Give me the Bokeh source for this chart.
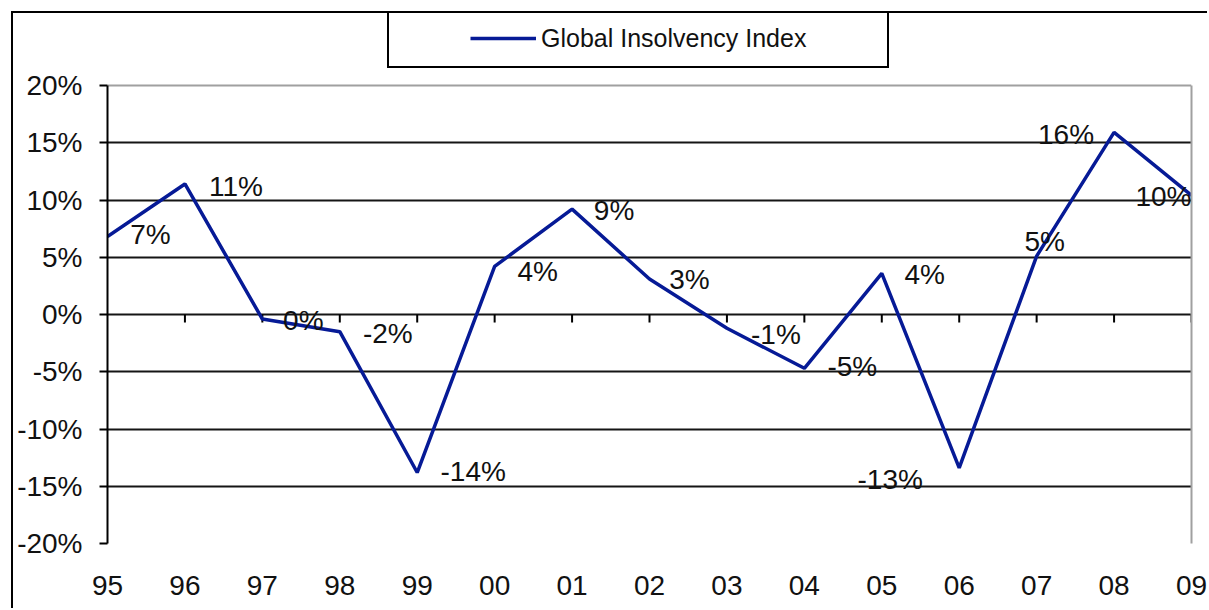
from bokeh.plotting import figure
from bokeh.models import (Range1d, FixedTicker, PrintfTickFormatter, ColumnDataSource,
                          LabelSet, Legend, LegendItem, Grid, LinearAxis)
from bokeh.core.properties import value
from bokeh.embed import file_html
from bokeh.resources import INLINE

# ---- data ----
years = ["95", "96", "97", "98", "99", "00", "01", "02", "03", "04", "05", "06", "07", "08", "09"]
insolvency = [6.8, 11.4, -0.4, -1.5, -13.8, 4.2, 9.2, 3.1, -1.2, -4.7, 3.6, -13.4, 5.1, 15.9, 10.4]
point_labels = ["7%", "11%", "0%", "-2%", "-14%", "4%", "9%", "3%", "-1%", "-5%", "4%", "-13%", "5%", "16%", "10%"]
y_ticks = [-20, -15, -10, -5, 0, 5, 10, 15, 20]
series_name = "Global Insolvency Index"

# ---- layout ----
label_dx = [43, 51, 41, 48, 56, 43, 42, 40, 49, 48, 43, -69, 8, -48, -28]   # px
label_dy = [-2, 3, 1, 2, -1, 5, 1, 0, 6, -2, 1, 12, -15, 2, 1]              # px, + = down
PLOT_H = 458          # px between the 20% and -20% lines
HEADROOM = 72         # px above the 20% line reserved for the legend box
LEGEND_H = 56
FONT = "Liberation Sans"
TXT = "#111111"
GRAY = "#a0a0a0"

idx = list(range(len(years)))
y_lo, y_hi = min(y_ticks), max(y_ticks)
y_top = y_hi + HEADROOM * (y_hi - y_lo) / PLOT_H

p = figure(width=1196, height=597, output_backend="svg", toolbar_location=None,
           margin=(13, 0, 0, 13),
           x_range=Range1d(0, len(years) - 1), y_range=Range1d(y_lo, y_top),
           min_border_left=94, min_border_right=18, min_border_top=0, min_border_bottom=67,
           background_fill_color="white", border_fill_color="white")
# outer chart border: top and left edges only
p.styles = {"box-shadow": "-2px -2px 0 0 black"}
p.outline_line_color = None

# y axis
p.yaxis.bounds = (y_lo, y_hi)
p.yaxis.ticker = FixedTicker(ticks=y_ticks)
p.yaxis.formatter = PrintfTickFormatter(format="%d%%")
p.yaxis.axis_line_color = "black"
p.yaxis.axis_line_width = 2
p.yaxis.major_tick_line_color = "black"
p.yaxis.major_tick_line_width = 2
p.yaxis.major_tick_out = 8
p.yaxis.major_tick_in = 0
p.yaxis.minor_tick_line_color = None
p.yaxis.major_label_standoff = 17
p.yaxis.major_label_text_font = FONT
p.yaxis.major_label_text_font_size = "28px"
p.yaxis.major_label_text_color = TXT

# right edge of the plot area (gray)
right_axis = LinearAxis(bounds=(y_lo, y_hi), ticker=FixedTicker(ticks=[]),
                        axis_line_color=GRAY, axis_line_width=2,
                        major_tick_line_color=None, minor_tick_line_color=None,
                        major_label_text_font_size="0px")
p.add_layout(right_axis, "right")

# x axis (labels only, at the bottom)
p.xaxis.ticker = FixedTicker(ticks=idx)
p.xaxis.major_label_overrides = {i: y for i, y in zip(idx, years)}
p.xaxis.axis_line_color = None
p.xaxis.major_tick_line_color = None
p.xaxis.minor_tick_line_color = None
p.xaxis.major_tick_out = 0
p.xaxis.major_label_standoff = 32
p.xaxis.major_label_text_font = FONT
p.xaxis.major_label_text_font_size = "28px"
p.xaxis.major_label_text_color = TXT

# grid
p.xgrid.grid_line_color = None
p.ygrid.ticker = FixedTicker(ticks=[t for t in y_ticks if y_lo < t < y_hi])
p.ygrid.grid_line_color = "#151515"
p.ygrid.grid_line_width = 2
p.add_layout(Grid(dimension=1, ticker=FixedTicker(ticks=[y_lo, y_hi]),
                  grid_line_color=GRAY, grid_line_width=2))

# category ticks hanging below the zero line
p.segment(x0=idx[1:], x1=idx[1:], y0=[0] * (len(idx) - 1), y1=[-0.7] * (len(idx) - 1),
          line_color="black", line_width=2)

# series line
src = ColumnDataSource(dict(x=idx, y=insolvency, lab=point_labels,
                            dx=label_dx, dy=[-d for d in label_dy]))
line = p.line("x", "y", source=src, line_color="#061a96", line_width=3.5)
spacer = p.line("x", "y", source=src, line_alpha=0)

labels = LabelSet(x="x", y="y", text="lab", source=src, x_offset="dx", y_offset="dy",
                  text_align="center", text_baseline="middle",
                  text_font=value(FONT), text_font_size=value("28px"), text_color=TXT)
p.add_layout(labels)

# legend box above the plot area (spacer entries keep the entry centred in a wide box)
legend = Legend(items=[LegendItem(label=" ", renderers=[spacer]),
                       LegendItem(label=series_name, renderers=[line]),
                       LegendItem(label=" ", renderers=[spacer])],
                orientation="horizontal",
                location=(280, PLOT_H + HEADROOM - LEGEND_H + 1), margin=0,
                padding=10, spacing=0, glyph_width=66, glyph_height=LEGEND_H - 20,
                label_height=LEGEND_H - 20, label_width=0, label_standoff=5,
                border_line_color="black", border_line_alpha=1, border_line_width=2,
                background_fill_color="white", background_fill_alpha=1,
                label_text_font=FONT, label_text_font_size="25px",
                label_text_color=TXT)
p.add_layout(legend, "center")

open("out.html", "w").write(file_html(p, INLINE))
